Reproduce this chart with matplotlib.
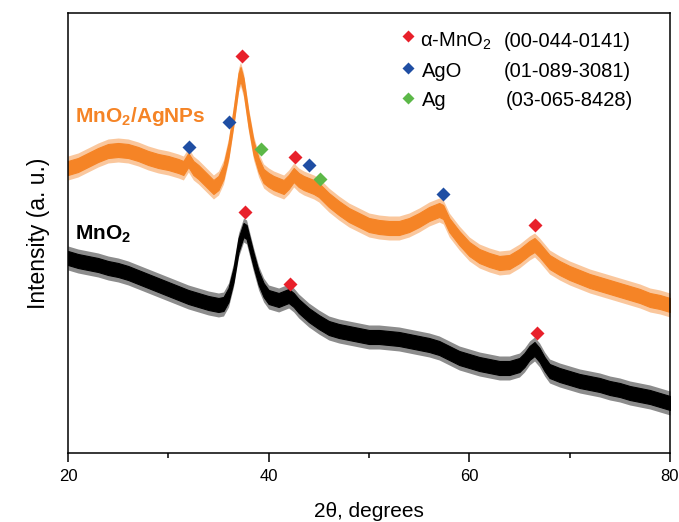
import matplotlib.pyplot as plt
from matplotlib.ticker import MultipleLocator
import numpy as np

plt.rcParams['font.family'] = ['Liberation Sans', 'DejaVu Sans']
plt.rcParams['mathtext.fontset'] = 'custom'
plt.rcParams['mathtext.rm'] = 'Liberation Sans'
plt.rcParams['mathtext.bf'] = 'Liberation Sans:bold'
plt.rcParams['mathtext.it'] = 'Liberation Sans:italic'

# MnO2/AgNPs pattern (centre of the noisy trace, arbitrary units)
tt_agnp = [20, 21, 22, 23, 24, 25, 26, 27, 28, 29, 30, 31, 31.5, 32, 32.5, 33, 34, 34.5,
           35, 35.5, 36, 36.5, 37, 37.2, 37.5, 38, 38.5, 39, 39.5, 40, 40.5, 41, 41.5,
           42, 42.5, 43, 43.5, 44, 44.5, 45, 46, 47, 48, 49, 50, 51, 52, 53, 54, 55,
           56, 57, 57.4, 58, 59, 60, 61, 62, 63, 64, 65, 66, 66.5, 67, 68, 69, 70,
           71, 72, 73, 74, 75, 76, 77, 78, 79, 80]
int_agnp = [285, 288, 293, 298, 302, 303, 302, 299, 295, 292, 290, 287, 285, 293, 285, 281, 271, 266,
            270, 281, 303, 336, 373, 379, 368, 333, 305, 288, 277, 273, 270, 268, 266,
            271, 278, 273, 270, 268, 266, 263, 253, 245, 238, 233, 228, 226, 225, 225, 228, 233,
            239, 243, 241, 228, 215, 204, 197, 193, 190, 191, 197, 205, 208, 203, 191, 185, 180,
            176, 172, 169, 166, 163, 160, 157, 153, 151, 148]

# MnO2 pattern
tt_mno2 = [20, 21, 22, 23, 24, 25, 26, 27, 28, 29, 30, 31, 32, 33, 34, 35, 35.5, 36, 36.5,
           37, 37.5, 37.8, 38, 38.5, 39, 39.5, 40, 41, 42, 42.5, 43, 44, 45, 46, 47, 48,
           49, 50, 51, 52, 53, 54, 55, 56, 57, 58, 59, 60, 61, 62, 63, 64, 65, 65.5, 66,
           66.5, 67, 67.5, 68, 69, 70, 71, 72, 73, 74, 75, 76, 77, 78, 79, 80]
int_mno2 = [195, 192, 190, 188, 185, 183, 180, 176, 172, 168, 164, 160, 156, 153, 150, 148, 149, 158, 178,
            208, 223, 221, 213, 193, 175, 163, 156, 153, 157, 153, 147, 138, 131, 125, 122, 120,
            118, 116, 116, 115, 114, 112, 110, 108, 105, 100, 95, 92, 89, 87, 85, 85, 88, 93, 100,
            104, 98, 89, 82, 78, 75, 72, 70, 68, 65, 63, 60, 58, 56, 53, 50]

# reflection markers
mno2_tt = [37.35, 42.6, 66.5, 37.65, 42.1, 66.7]
mno2_int = [397, 296, 228, 241, 169, 120]
ago_tt = [32.1, 36.05, 44.0, 57.4]
ago_int = [306, 331, 288, 259]
ag_tt = [39.25, 45.1]
ag_int = [304, 274]

legend_names = ['α-MnO$_2$', 'AgO', 'Ag']
legend_codes = ['(00-044-0141)', '(01-089-3081)', '(03-065-8428)']

ORANGE = '#f58426'
RED = '#e8202a'
BLUE = '#1f4ea3'
GREEN = '#5cb848'

fig = plt.figure(figsize=(6.79, 5.22), dpi=100)
ax = fig.add_axes([0.1001, 0.1322, 0.8866, 0.8429])

# noisy traces shown as a dense core with a lighter fringe of noise
for tt, inten, col in [(tt_agnp, int_agnp, ORANGE), (tt_mno2, int_mno2, 'black')]:
    y = np.array(inten, dtype=float)
    ax.fill_between(tt, y - 12, y + 12, color=col, lw=0, alpha=0.45)
    ax.fill_between(tt, y - 7, y + 7, color=col, lw=0.8, ec=col)

ax.plot(mno2_tt, mno2_int, 'D', color=RED, ms=7.5, mec='none')
ax.plot(ago_tt, ago_int, 'D', color=BLUE, ms=7.5, mec='none')
ax.plot(ag_tt, ag_int, 'D', color=GREEN, ms=7.5, mec='none')

# legend drawn by hand
leg_y = [417, 384.7, 354.7]
leg_base = [406.3, 376.3, 347]
leg_x = [55.08, 55.28, 55.28]
code_x = [63.39, 63.39, 63.66]
for i, col in enumerate([RED, BLUE, GREEN]):
    ax.plot([53.92], [leg_y[i]], 'D', color=col, ms=6.5, mec='none')
    ax.text(leg_x[i], leg_base[i], legend_names[i], fontsize=14.5, va='baseline', ha='left')
    ax.text(code_x[i], leg_base[i], legend_codes[i], fontsize=14.5, va='baseline', ha='left')

ax.text(20.7, 331.3, r'$\mathbf{MnO_2/AgNPs}$', color=ORANGE, fontsize=15, va='baseline')
ax.text(20.7, 213, r'$\mathbf{MnO_2}$', color='black', fontsize=15, va='baseline')

ax.set_xlim(20, 80)
ax.set_ylim(0, 440)
ax.xaxis.set_major_locator(MultipleLocator(20))
ax.xaxis.set_minor_locator(MultipleLocator(10))
ax.tick_params(axis='x', which='major', direction='out', length=6.5, width=1.1, labelsize=12, pad=5)
ax.tick_params(axis='x', which='minor', direction='out', length=3.8, width=1.1)
ax.set_yticks([])
for sp in ax.spines.values():
    sp.set_linewidth(1.1)

ax.set_xlabel('2θ, degrees', fontsize=15, labelpad=13)
ax.set_ylabel('Intensity (a. u.)', fontsize=16.5, labelpad=13)

plt.savefig('out.png', dpi=100)
